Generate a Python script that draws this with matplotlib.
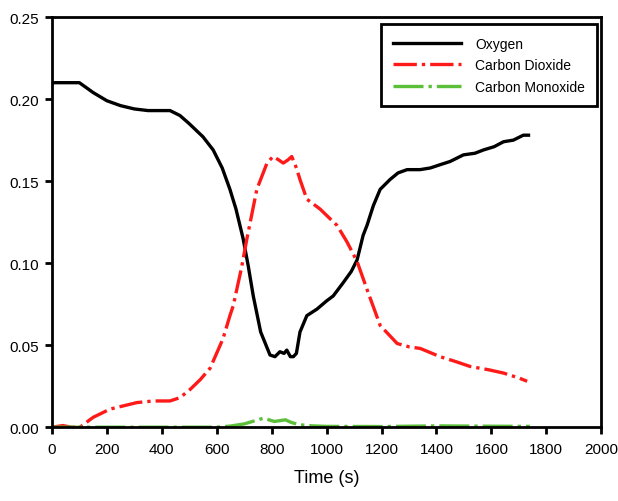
import matplotlib.pyplot as plt

plt.rcParams["font.family"] = ["Liberation Sans", "DejaVu Sans"]

# %% Data

o2_t = [0, 100, 150, 200, 250, 300, 350, 430, 466, 500, 550, 587, 620, 648, 670,
        696, 715, 733, 760, 794, 812, 830, 845, 855, 868, 879, 890, 903, 928, 965,
        1000, 1024, 1060, 1090, 1111, 1133, 1147, 1170, 1195, 1231, 1260, 1293,
        1340, 1377, 1413, 1450, 1498, 1540, 1571, 1610, 1644, 1680, 1716, 1735]
o2_v = [0.210, 0.210, 0.204, 0.199, 0.196, 0.194, 0.193, 0.193, 0.190, 0.185,
        0.177, 0.169, 0.158, 0.145, 0.133, 0.115, 0.098, 0.080, 0.058, 0.044,
        0.043, 0.046, 0.045, 0.047, 0.043, 0.043, 0.045, 0.058, 0.068, 0.072,
        0.077, 0.080, 0.088, 0.095, 0.102, 0.117, 0.123, 0.135, 0.145, 0.151,
        0.155, 0.157, 0.157, 0.158, 0.160, 0.162, 0.166, 0.167, 0.169, 0.171,
        0.174, 0.175, 0.178, 0.178]

co2_t = [0, 40, 70, 102, 150, 211, 260, 309, 370, 430, 466, 503, 540, 576, 623,
         648, 660, 690, 710, 746, 783, 805, 825, 842, 860, 873, 890, 903, 928,
         976, 1013, 1038, 1074, 1111, 1147, 1195, 1257, 1300, 1341, 1413, 1470,
         1523, 1590, 1644, 1700, 1730]
co2_v = [0.000, 0.001, 0.000, 0.000, 0.006, 0.011, 0.013, 0.015, 0.016, 0.016,
         0.018, 0.023, 0.029, 0.036, 0.054, 0.068, 0.074, 0.097, 0.115, 0.145,
         0.161, 0.165, 0.163, 0.161, 0.163, 0.165, 0.158, 0.151, 0.139, 0.133,
         0.127, 0.123, 0.113, 0.101, 0.084, 0.062, 0.051, 0.049, 0.048, 0.043,
         0.040, 0.037, 0.035, 0.033, 0.030, 0.028]

co_t = [0, 600, 650, 700, 740, 770, 790, 810, 830, 850, 870, 900, 950, 1000,
        1200, 1400, 1600, 1740]
co_v = [0.0, 0.0, 0.0007, 0.002, 0.004, 0.0055, 0.0045, 0.0035, 0.004, 0.0045,
        0.003, 0.0015, 0.0008, 0.0005, 0.0004, 0.0008, 0.0006, 0.0005]

x_ticks = [0, 200, 400, 600, 800, 1000, 1200, 1400, 1600, 1800, 2000]
y_ticks = [0.00, 0.05, 0.10, 0.15, 0.20, 0.25]

# %% Plot

fig = plt.figure(figsize=(6.18, 5.02), dpi=100)
ax = fig.add_axes([0.084, 0.147, 0.889, 0.817])

ax.plot(o2_t, o2_v, color="black", lw=2.4, label="Oxygen")
ax.plot(co2_t, co2_v, color="#ff1a1a", lw=2.4, linestyle=(0, (7, 1.5, 1, 1.5)),
        label="Carbon Dioxide")
ax.plot(co_t, co_v, color="#5cbf3a", lw=2.4, linestyle=(0, (9, 1.5, 1, 1.5)),
        label="Carbon Monoxide")

ax.set_xlim(0, 2000)
ax.set_ylim(0, 0.25)
ax.set_xticks(x_ticks)
ax.set_yticks(y_ticks)
ax.set_yticklabels([f"{v:.2f}" for v in y_ticks])
ax.tick_params(direction="out", length=5, width=2, labelsize=11)
ax.tick_params(axis="x", pad=6)
ax.tick_params(axis="y", pad=4)
for s in ax.spines.values():
    s.set_linewidth(2)
ax.set_xlabel("Time (s)", fontsize=13, labelpad=9)

leg = ax.legend(loc="upper right", bbox_to_anchor=(0.993, 0.983), fontsize=10,
                handlelength=4.9, handletextpad=1.0, borderpad=0.9,
                labelspacing=0.55, borderaxespad=0, fancybox=False, framealpha=1)
leg.get_frame().set_edgecolor("black")
leg.get_frame().set_linewidth(2)

fig.savefig("out.png", dpi=100)
